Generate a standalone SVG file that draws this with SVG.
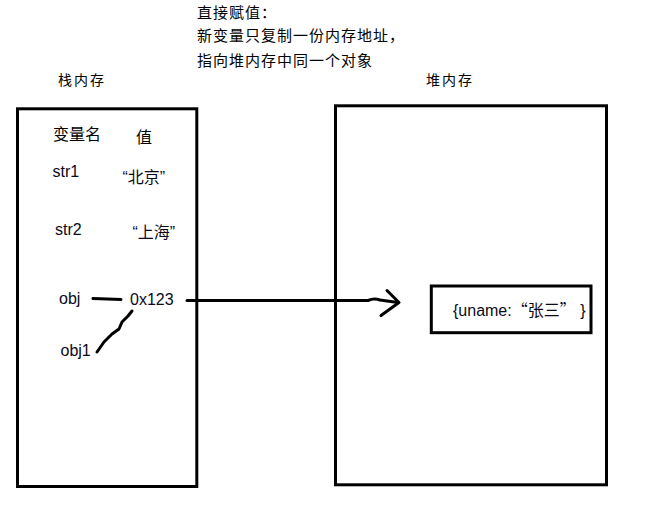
<svg xmlns="http://www.w3.org/2000/svg" width="646" height="510" viewBox="0 0 646 510">
<style>
.box{fill:none;stroke:#000;stroke-width:3}
.cn{font-family:"Noto Sans CJK SC","Liberation Sans",sans-serif;fill:#000}
.lat{font-family:"Liberation Sans","Noto Sans CJK SC",sans-serif;font-size:16px;fill:#0a0a1a}
.wire{fill:none;stroke:#000;stroke-width:3;stroke-linecap:round;stroke-linejoin:round}
</style>
<rect width="646" height="510" fill="#fff"/>
<g id="title">
<text class="cn" x="197" y="17.5" font-size="15" letter-spacing="1">直接赋值：</text>
<text class="cn" x="197" y="41" font-size="15" letter-spacing="1">新变量只复制一份内存地址，</text>
<text class="cn" x="197" y="66" font-size="15" letter-spacing="1">指向堆内存中同一个对象</text>
</g>
<g id="stack">
<text class="cn" x="58" y="85" font-size="14" letter-spacing="2">栈内存</text>
<rect class="box" x="17.5" y="108.8" width="179.3" height="377.7"/>
<text class="cn" x="53" y="140" font-size="16">变量名</text>
<text class="cn" x="136" y="143" font-size="16">值</text>
<text class="lat" x="52.5" y="177">str1</text>
<text class="lat" x="122.5" y="183">“北京”</text>
<text class="lat" x="55" y="235">str2</text>
<text class="lat" x="132.5" y="238">“上海”</text>
<text class="lat" x="59" y="304">obj</text>
<text class="lat" x="130" y="305">0x123</text>
<text class="lat" x="60.5" y="356">obj1</text>
</g>
<g id="heap">
<text class="cn" x="426" y="85" font-size="14" letter-spacing="2">堆内存</text>
<rect class="box" x="335.5" y="105.8" width="271" height="379"/>
</g>
<g id="object">
<rect class="box" x="431.3" y="286" width="159.7" height="46.7"/>
<text class="lat" x="453" y="316">{uname:<tspan font-family="Noto Sans CJK SC">“张三”</tspan> }</text>
</g>
<g id="connectors">
<path class="wire" d="M187,300.5 L368,300.5 Q374,298 380,300 L398,302.5"/>
<polyline class="wire" points="387,290.5 399,302.5 381,315.5"/>
<path class="wire" d="M93,298.5 L121,299.5"/>
<path class="wire" d="M97,352 L104,342 L112,334 L119,329 L122,322 L128,316 L132,311"/>
</g>
</svg>
